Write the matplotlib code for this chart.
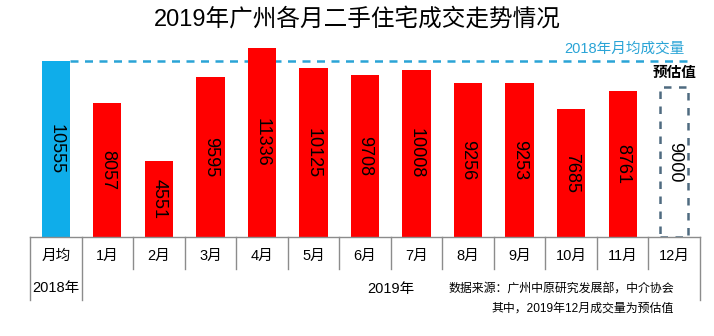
import matplotlib
matplotlib.use("Agg")
import matplotlib.pyplot as plt
import matplotlib.transforms as mtransforms

plt.rcParams['font.family'] = ['Liberation Sans', 'Noto Sans CJK SC', 'DejaVu Sans']

title = "2019年广州各月二手住宅成交走势情况"
categories = ["月均", "1月", "2月", "3月", "4月", "5月", "6月", "7月", "8月", "9月", "10月", "11月", "12月"]
values = [10555, 8057, 4551, 9595, 11336, 10125, 9708, 10008, 9256, 9253, 7685, 8761, 9000]
kinds = ["avg2018"] + ["actual"] * 11 + ["estimate"]
avg_2018 = 10555
avg_label = "2018年月均成交量"
estimate_label = "预估值"
year_labels = ["2018年", "2019年"]
source_lines = ["数据来源：广州中原研究发展部，中介协会", "其中，2019年12月成交量为预估值"]

W, H = 714, 336
fig = plt.figure(figsize=(W / 100, H / 100), dpi=100)
fig.patch.set_facecolor("white")
left_px, right_px = 30, 700
base_px, top_px = 237, 37
ax = fig.add_axes([left_px / W, (H - base_px) / H, (right_px - left_px) / W, (base_px - top_px) / H])
ax.set_xlim(-0.5, len(categories) - 0.5)
ax.set_ylim(0, 12000)
ax.axis("off")

bw = 0.55
xs = list(range(len(categories)))
colors = {"avg2018": "#0fadea", "actual": "#ff0000"}
for x, v, k in zip(xs, values, kinds):
    if k == "estimate":
        ax.bar(x, v, width=bw, fill=False, edgecolor="#4f6b80", linewidth=1.8,
               linestyle=(0, (3.0, 3.0)), zorder=3)
    else:
        ax.bar(x, v, width=bw, color=colors[k], zorder=3)
    ax.text(x, v / 2, f"{v}", rotation=270, ha="center", va="center",
            fontsize=13, color="black", zorder=4, rotation_mode="anchor")

# 2018 average dashed line
ax.plot([bw / 2, 12.36], [avg_2018, avg_2018], color="#2aa4d6", linewidth=1.8,
        linestyle=(0, (3.2, 2.6)), zorder=2, clip_on=False)
ax.text(12.2, avg_2018 + 350, avg_label, ha="right", va="bottom", fontsize=10.5,
        color="#2aa4d6")
ax.text(12.0, values[-1] + 450, estimate_label, ha="center", va="bottom",
        fontsize=10.5, fontweight="bold", color="black")

# table
tr = mtransforms.blended_transform_factory(ax.transData, ax.transAxes)
lc = "#8c8c8c"
row1 = -32 / 200
row2 = -63 / 200
ax.plot([-0.5, 12.5], [0, 0], color=lc, lw=1.0, transform=tr, clip_on=False, zorder=5)
for i in range(len(categories) + 1):
    xb = i - 0.5
    y1 = row2 if i in (0, 1, len(categories)) else row1
    ax.plot([xb, xb], [0, y1], color=lc, lw=1.0, transform=tr, clip_on=False)
for x, c in zip(xs, categories):
    ax.text(x, -19 / 200, c, ha="center", va="center", fontsize=10.5, transform=tr)
ax.text(0, -51 / 200, year_labels[0], ha="center", va="center", fontsize=10.5, transform=tr)
ax.text(6.5, -52 / 200, year_labels[1], ha="center", va="center", fontsize=10.5, transform=tr)
ax.text(12.0, -53 / 200, source_lines[0], ha="right", va="center", fontsize=8.6, transform=tr)
ax.text(12.0, -72 / 200, source_lines[1], ha="right", va="center", fontsize=8.6, transform=tr)

fig.text(0.5, 1 - 20 / H, title, ha="center", va="center", fontsize=17, color="black")

fig.savefig("out.png", dpi=100, facecolor="white")
